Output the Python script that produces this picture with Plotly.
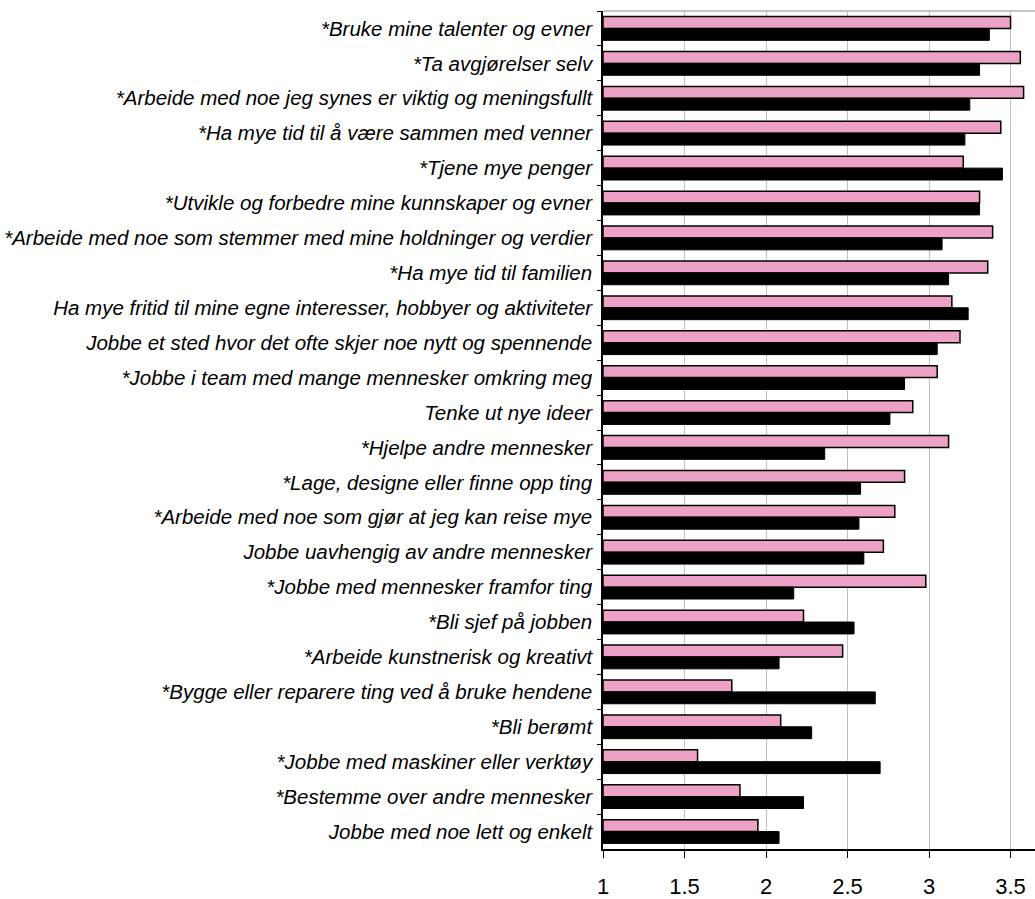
import plotly.graph_objects as go

categories = [
    "*Bruke mine talenter og evner",
    "*Ta avgjørelser selv",
    "*Arbeide med noe jeg synes er viktig og meningsfullt",
    "*Ha mye tid til å være sammen med venner",
    "*Tjene mye penger",
    "*Utvikle og forbedre mine kunnskaper og evner",
    "*Arbeide med noe som stemmer med mine holdninger og verdier",
    "*Ha mye tid til familien",
    "Ha mye fritid til mine egne interesser, hobbyer og aktiviteter",
    "Jobbe et sted hvor det ofte skjer noe nytt og spennende",
    "*Jobbe i team med mange mennesker omkring meg",
    "Tenke ut nye ideer",
    "*Hjelpe andre mennesker",
    "*Lage, designe eller finne opp ting",
    "*Arbeide med noe som gjør at jeg kan reise mye",
    "Jobbe uavhengig av andre mennesker",
    "*Jobbe med mennesker framfor ting",
    "*Bli sjef på jobben",
    "*Arbeide kunstnerisk og kreativt",
    "*Bygge eller reparere ting ved å bruke hendene",
    "*Bli berømt",
    "*Jobbe med maskiner eller verktøy",
    "*Bestemme over andre mennesker",
    "Jobbe med noe lett og enkelt",
]

pink_values = [3.50, 3.56, 3.58, 3.44, 3.21, 3.31, 3.39, 3.36, 3.14, 3.19, 3.05, 2.90,
               3.12, 2.85, 2.79, 2.72, 2.98, 2.23, 2.47, 1.79, 2.09, 1.58, 1.84, 1.95]
black_values = [3.37, 3.31, 3.25, 3.22, 3.45, 3.31, 3.08, 3.12, 3.24, 3.05, 2.85, 2.76,
                2.36, 2.58, 2.57, 2.60, 2.17, 2.54, 2.08, 2.67, 2.28, 2.70, 2.23, 2.08]

x_ticks = [1, 1.5, 2, 2.5, 3, 3.5]
x_tick_labels = ["1", "1.5", "2", "2.5", "3", "3.5"]

fig = go.Figure()
fig.add_trace(go.Bar(
    y=categories, x=[v - 1 for v in pink_values], base=1, orientation="h",
    marker=dict(color="#EDA1C4", line=dict(color="#000000", width=1.5)),
    name="Jenter",
))
fig.add_trace(go.Bar(
    y=categories, x=[v - 1 for v in black_values], base=1, orientation="h",
    marker=dict(color="#000000", line=dict(color="#000000", width=1)),
    name="Gutter",
))

fig.update_layout(
    width=1035, height=899,
    margin=dict(l=603, r=0, t=11, b=45),
    barmode="group", bargap=0.32, bargroupgap=0.0,
    plot_bgcolor="white", paper_bgcolor="white",
    showlegend=False,
    font=dict(family="Liberation Sans, Arial, sans-serif", color="#000000"),
)
fig.update_xaxes(
    range=[1, 3.65], tickvals=x_ticks, ticktext=x_tick_labels,
    showgrid=True, gridcolor="#C0C0C0", gridwidth=1,
    showline=True, linecolor="#000000", linewidth=1.5,
    ticks="outside", ticklen=7, tickcolor="#000000",
    tickfont=dict(size=22), zeroline=False,
    ticklabelstandoff=10,
)
fig.update_yaxes(
    autorange="reversed", type="category",
    showline=True, linecolor="#000000", linewidth=1.5,
    ticks="outside", ticklen=4, tickcolor="#000000", tickson="boundaries",
    tickfont=dict(size=20.5, style="italic"),
    ticklabelstandoff=5,
)
fig.add_shape(type="line", xref="paper", yref="paper", x0=0, x1=1, y0=1, y1=1,
              line=dict(color="#B0B0B0", width=1.5))

fig.write_html("out.html")
